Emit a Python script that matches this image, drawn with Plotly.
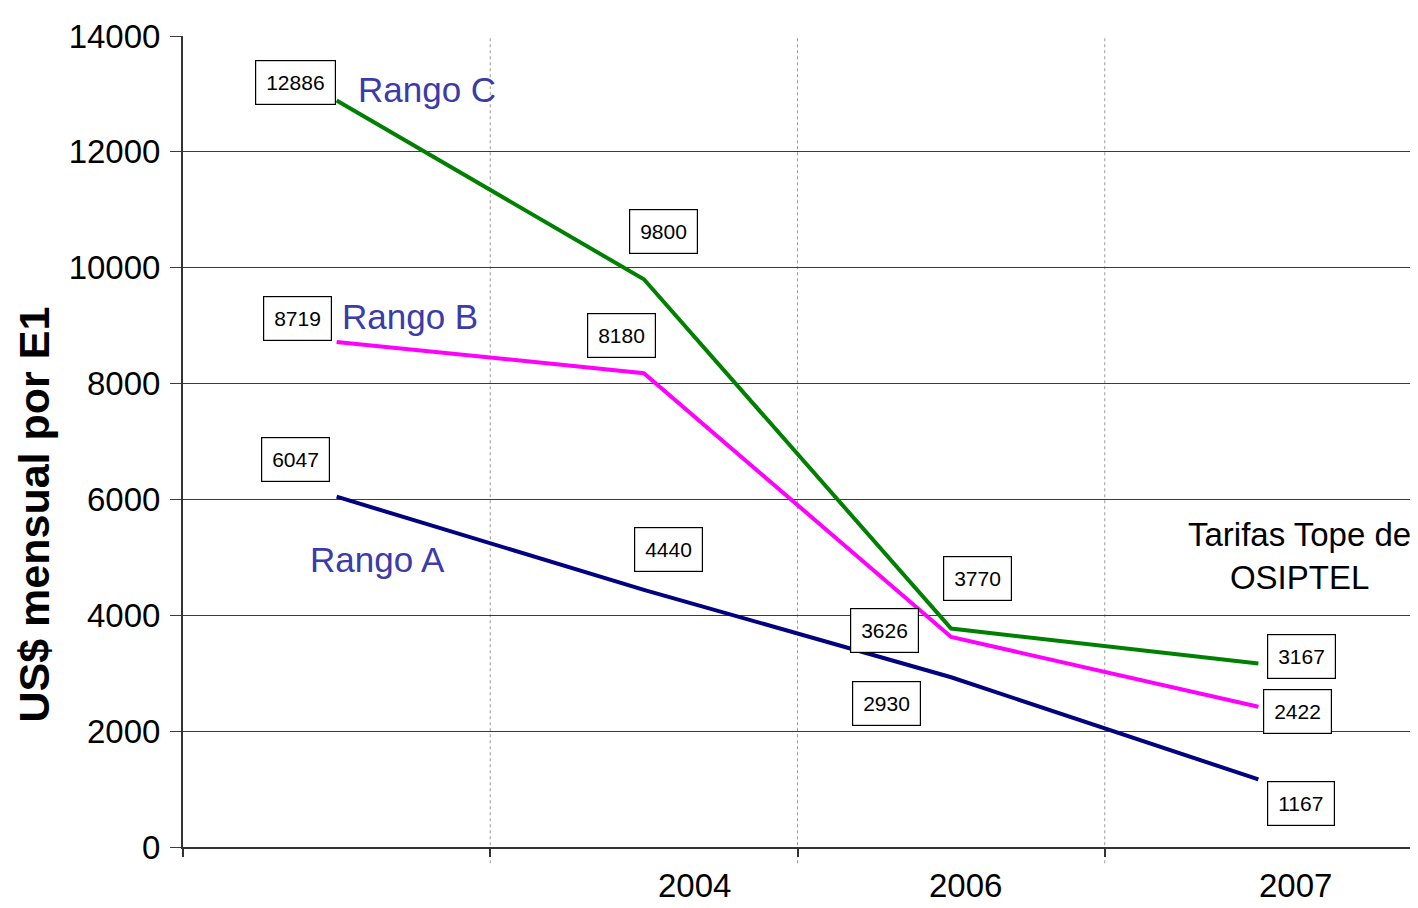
import plotly.graph_objects as go

# Data
categories = ["2003", "2004", "2006", "2007"]
tick_labels = ["", "2004", "2006", "2007"]
x_pos = [0.5, 1.5, 2.5, 3.5]
rango_a = [6047, 4440, 2930, 1167]
rango_b = [8719, 8180, 3626, 2422]
rango_c = [12886, 9800, 3770, 3167]
y_ticks = [0, 2000, 4000, 6000, 8000, 10000, 12000, 14000]

FONT = "Arial, 'Liberation Sans', sans-serif"
fig = go.Figure()

series = [
    ("Rango C", rango_c, "#008000"),
    ("Rango B", rango_b, "#ff00ff"),
    ("Rango A", rango_a, "#000080"),
]
for name, vals, col in series:
    fig.add_trace(go.Scatter(x=x_pos, y=vals, mode="lines", name=name,
                             line=dict(color=col, width=4), showlegend=False))

# value box offsets (pixels)
offsets = {
    "Rango C": [(-41, 18), (20, 48), (26, 50), (43, 7)],
    "Rango B": [(-39, 23), (-22, 38), (-67, 6), (39, -5)],
    "Rango A": [(-41, 37), (25, 40), (-65, -26), (43, -24)],
}
ann = []
for name, vals, col in series:
    for i, v in enumerate(vals):
        dx, dy = offsets[name][i]
        ann.append(dict(x=x_pos[i], y=v, text=str(v), showarrow=False,
                        xshift=dx, yshift=dy, font=dict(family=FONT, size=21, color="black"),
                        bordercolor="black", borderwidth=1.2, borderpad=10, bgcolor="white"))

# series name labels
name_shift = {"Rango C": (90, 11), "Rango B": (73, 25), "Rango A": (41, -63)}
for name, vals, col in series:
    dx, dy = name_shift[name]
    ann.append(dict(x=x_pos[0], y=vals[0], text=name, showarrow=False, xshift=dx, yshift=dy,
                    font=dict(family=FONT, size=35, color="#3b3baa")))

ann.append(dict(x=x_pos[3], y=rango_c[3], text="Tarifas Tope de<br>OSIPTEL", showarrow=False,
                xshift=41, yshift=108, font=dict(family=FONT, size=33, color="black"),
                align="center"))

# year labels
year_shift = [0, 51, 14, 37]
for i, t in enumerate(tick_labels):
    if t:
        ann.append(dict(x=x_pos[i], y=0, yref="y", text=t, showarrow=False,
                        xshift=year_shift[i], yshift=-38,
                        font=dict(family=FONT, size=33, color="black")))

# y title
ann.append(dict(x=0, xref="paper", xanchor="center", xshift=-150, y=0.5, yref="paper",
                yanchor="middle", yshift=-73,
                text="<b>US$ mensual por E1</b>",
                showarrow=False, textangle=-90, font=dict(family=FONT, size=43, color="black")))

shapes = []
for xv in [1, 2, 3]:
    shapes.append(dict(type="line", x0=xv, x1=xv, y0=-0.02, y1=1, yref="paper", xref="x",
                       line=dict(color="#9a9a9a", width=1, dash="dot"), layer="below"))

fig.update_layout(
    width=1410, height=900,
    margin=dict(l=175, r=6, t=28, b=61),
    paper_bgcolor="white", plot_bgcolor="white",
    annotations=ann, shapes=shapes,
    xaxis=dict(range=[0, 4], tickvals=[0, 1, 2, 3, 4], ticktext=["", "", "", "", ""],
               showgrid=False, zeroline=False, showline=True, linecolor="#333333", linewidth=2,
               ticks="outside", ticklen=8, tickcolor="#333333", tickwidth=2),
    yaxis=dict(range=[0, 14000], tickvals=y_ticks, ticktext=[str(v) for v in y_ticks],
               showgrid=True, gridcolor="#3a3a3a", gridwidth=1.3, zeroline=False,
               showline=True, linecolor="#333333", linewidth=2,
               ticks="outside", ticklen=11, tickcolor="#3a3a3a", tickwidth=1.3,
               ticklabelstandoff=3,
               tickfont=dict(family=FONT, size=33, color="black")),
)

fig.write_html("out.html")
